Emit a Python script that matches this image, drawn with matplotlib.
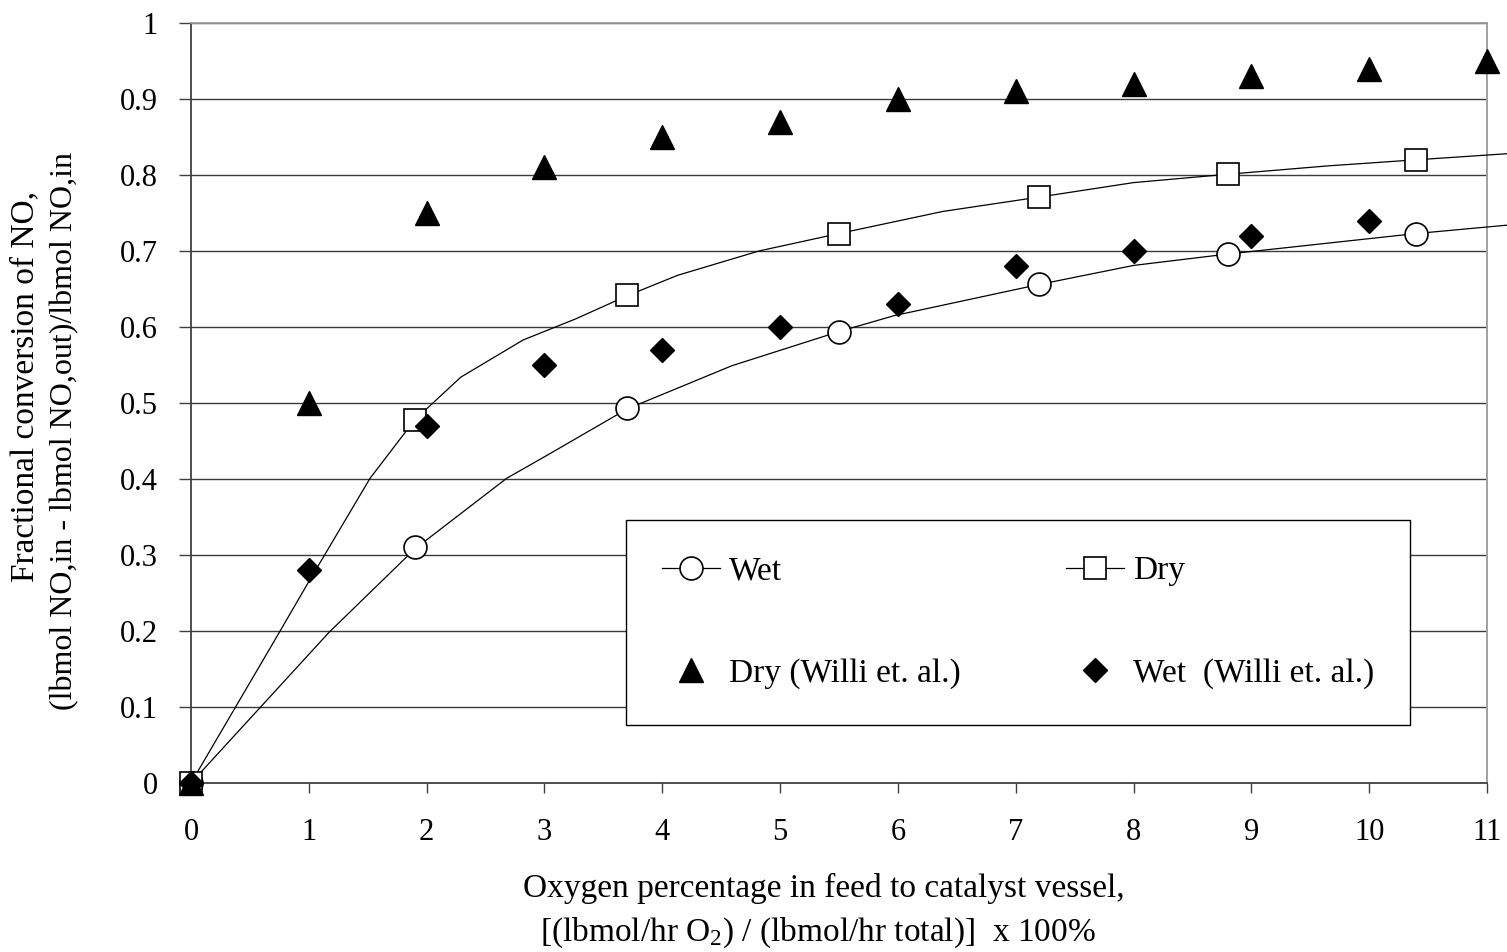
import matplotlib
matplotlib.use("Agg")
import matplotlib.pyplot as plt
import numpy as np

plt.rcParams['font.family'] = ['Liberation Serif', 'DejaVu Serif']
plt.rcParams['mathtext.fontset'] = 'custom'
plt.rcParams['mathtext.rm'] = 'Liberation Serif'
plt.rcParams['mathtext.it'] = 'Liberation Serif:italic'

# model points (on the curves)
modelX = [0, 1.9, 3.7, 5.5, 7.2, 8.8, 10.4]
wetModel = [0, 0.31, 0.493, 0.594, 0.656, 0.696, 0.723]
dryModel = [0, 0.478, 0.642, 0.723, 0.771, 0.801, 0.820]

# smooth model curves
dryCurveX = [0, 0.73, 1.0, 1.52, 1.9, 2.29, 2.82, 3.27, 3.7, 4.13, 4.82, 5.5, 6.38, 7.2, 8.0, 8.8, 9.65, 10.4, 11.17]
dryCurveY = [0, 0.193, 0.265, 0.401, 0.478, 0.534, 0.583, 0.611, 0.641, 0.668, 0.700, 0.723, 0.752, 0.771, 0.790, 0.801, 0.812, 0.820, 0.828]
wetCurveX = [0, 1.17, 1.9, 2.68, 3.02, 3.7, 4.59, 5.5, 5.97, 7.2, 8.0, 8.8, 10.4, 11.17]
wetCurveY = [0, 0.198, 0.308, 0.401, 0.431, 0.492, 0.549, 0.594, 0.615, 0.656, 0.681, 0.696, 0.723, 0.734]

# Willi et. al. data
williX = [0, 1, 2, 3, 4, 5, 6, 7, 8, 9, 10, 11]
williDry = [0, 0.50, 0.75, 0.81, 0.85, 0.87, 0.90, 0.91, 0.92, 0.93, 0.94, 0.95]
williWetX = [0, 1, 2, 3, 4, 5, 6, 7, 8, 9, 10]
williWet = [0, 0.28, 0.47, 0.55, 0.57, 0.60, 0.63, 0.68, 0.70, 0.72, 0.74]

yTickLabels = ["0", "0.1", "0.2", "0.3", "0.4", "0.5", "0.6", "0.7", "0.8", "0.9", "1"]

W, H = 1507, 952
fig = plt.figure(figsize=(W / 100, H / 100), dpi=100)
ax = fig.add_axes([191 / W, 1 - 783 / H, 1296 / W, 760 / H])

ax.set_xlim(0, 11)
ax.set_ylim(0, 1)
ax.set_xticks(range(0, 12))
ax.set_yticks(np.arange(0, 1.01, 0.1))
ax.set_yticklabels(yTickLabels)
ax.tick_params(axis="y", direction="out", length=9, width=1, color="#404040",
               labelsize=22, pad=15)
ax.tick_params(axis="x", direction="out", length=7.5, width=1, color="#404040",
               labelsize=22, pad=18)
for y in np.arange(0.1, 1.01, 0.1):
    ax.axhline(y, color="#3a3a3a", lw=1.0, zorder=1)
for s in ["left", "bottom"]:
    ax.spines[s].set_color("#404040")
    ax.spines[s].set_linewidth(1.3)
for s in ["top", "right"]:
    ax.spines[s].set_color("#9a9a9a")
    ax.spines[s].set_linewidth(1.3)

# curves
ax.plot(wetCurveX, wetCurveY, color="black", lw=0.9, clip_on=False, zorder=3)
ax.plot(dryCurveX, dryCurveY, color="black", lw=0.9, clip_on=False, zorder=3)

ax.plot(modelX, wetModel, "o", ms=16.5, mfc="white", mec="black", mew=1.2,
        clip_on=False, zorder=4)
ax.plot(modelX, dryModel, "s", ms=16.5, mfc="white", mec="black", mew=1.2,
        clip_on=False, zorder=4)
ax.plot(williX, williDry, "^", ms=17.5, color="black", clip_on=False, zorder=5)
ax.plot(williWetX, williWet, "D", ms=12.5, color="black", clip_on=False, zorder=5)

# legend proxies
hWet, = ax.plot([], [], "-o", color="black", lw=0.9, ms=16.5, mfc="white", mew=1.2)
hDry, = ax.plot([], [], "-s", color="black", lw=0.9, ms=16.5, mfc="white", mew=1.2)
hWDry, = ax.plot([], [], "^", ms=17.5, color="black", ls="none")
hWWet, = ax.plot([], [], "D", ms=12.5, color="black", ls="none")
leg = ax.legend([hWet, hWDry, hDry, hWWet],
                ["Wet", "Dry (Willi et. al.)", "Dry", "Wet  (Willi et. al.)"],
                ncol=2, loc="upper left",
                bbox_to_anchor=((626 - 191) / 1296, (783 - 520) / 760),
                borderaxespad=0, fontsize=24, frameon=True, fancybox=False,
                edgecolor="black", framealpha=1, handlelength=1.74,
                handletextpad=0.27, columnspacing=3.15, labelspacing=2.15,
                borderpad=1.08)
leg.get_frame().set_linewidth(1.0)

fig.text(523 / W, 1 - 897 / H, "Oxygen percentage in feed to catalyst vessel,",
         ha="left", va="baseline", fontsize=24)
fig.text(540 / W, 1 - 941 / H,
         "[(lbmol/hr O$_2$) / (lbmol/hr total)]  x 100%",
         ha="left", va="baseline", fontsize=24)
fig.text(25 / W, 1 - 386 / H, "Fractional conversion of NO,",
         rotation=90, ha="center", va="center", fontsize=24)
fig.text(65 / W, 1 - 431 / H, "(lbmol NO,in - lbmol NO,out)/lbmol NO,in",
         rotation=90, ha="center", va="center", fontsize=23)

fig.savefig("out.png", dpi=100)
